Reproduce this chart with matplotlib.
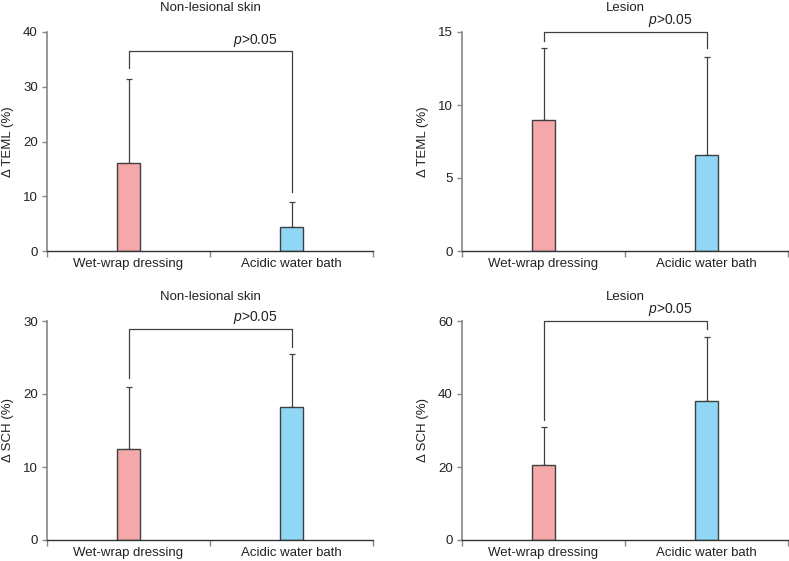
import matplotlib
matplotlib.use("Agg")
from matplotlib import pyplot as plt

plt.rcParams['font.family'] = ['Liberation Sans', 'DejaVu Sans']
plt.rcParams['mathtext.fontset'] = 'custom'
plt.rcParams['mathtext.rm'] = 'Liberation Sans'
plt.rcParams['mathtext.it'] = 'Liberation Sans:italic'

groups = ['Wet-wrap dressing', 'Acidic water bath']
titles = ['Non-lesional skin', 'Lesion', 'Non-lesional skin', 'Lesion']
ylabels = ['\u0394 TEML (%)', '\u0394 TEML (%)', '\u0394 SCH (%)', '\u0394 SCH (%)']
ymax = [40, 15, 30, 60]
ystep = [10, 5, 10, 20]

means = [[16.1, 4.3], [9.0, 6.55], [12.4, 18.2], [20.6, 38.0]]
errs = [[15.4, 4.7], [4.9, 6.75], [8.6, 7.3], [10.4, 17.6]]

# bracket height and where each leg stops
bracket_y = [36.5, 15.0, 28.9, 60.0]
leg_left = [33.4, 14.4, 22.2, 32.9]
leg_right = [10.7, 13.9, 26.5, 57.7]
p_text = r'$p$>0.05'

colors = ['#F4A8AA', '#8FD7F4']
edge = '#404040'

fig = plt.figure(figsize=(7.89, 5.61), dpi=100)
W, H = 789, 561
boxes = [(47, 32), (462, 32), (47, 321), (462, 321)]

for i in range(4):
    x0, y0 = boxes[i]
    ax = fig.add_axes([x0 / W, (H - y0 - 219) / H, 326 / W, 219 / H])
    for j in range(2):
        ax.bar(j, means[i][j], width=0.14, color=colors[j], edgecolor=edge,
               linewidth=1.0, zorder=2)
        ax.errorbar(j, means[i][j], yerr=[[0], [errs[i][j]]], color=edge,
                    linewidth=0.9, capsize=2, capthick=0.9, zorder=1)
    ax.plot([0, 0, 1, 1], [leg_left[i], bracket_y[i], bracket_y[i], leg_right[i]],
            color=edge, linewidth=0.9, clip_on=False)
    ax.annotate(p_text, (0.78, bracket_y[i]), xytext=(0, 8), textcoords='offset points',
                ha='center', va='center', fontsize=10, color='#222222',
                annotation_clip=False)

    ax.set_xlim(-0.5, 1.5)
    ax.set_ylim(0, ymax[i])
    ax.set_yticks(range(0, ymax[i] + 1, ystep[i]))
    ax.set_xticks([0, 1])
    ax.set_xticklabels(groups)
    ax.set_xticks([-0.5, 0.5, 1.5], minor=True)
    ax.tick_params(axis='x', which='major', length=0, labelsize=9.5, pad=5, colors='#222222')
    ax.tick_params(axis='x', which='minor', length=4, color='#888888', width=1)
    ax.tick_params(axis='y', length=3.6, color='#888888', width=1, labelsize=9.5,
                   labelcolor='#222222', pad=3)
    for s in ['top', 'right']:
        ax.spines[s].set_visible(False)
    ax.spines['left'].set_color('#888888')
    ax.spines['left'].set_linewidth(1.2)
    ax.spines['bottom'].set_color('#333333')
    ax.spines['bottom'].set_linewidth(1.0)
    ax.set_ylabel(ylabels[i], fontsize=9.5, color='#222222')
    ax.yaxis.set_label_coords(-0.10, 0.5)
    ax.set_title(titles[i], fontsize=9.5, color='#222222', pad=15)

fig.savefig('out.png', dpi=100)
